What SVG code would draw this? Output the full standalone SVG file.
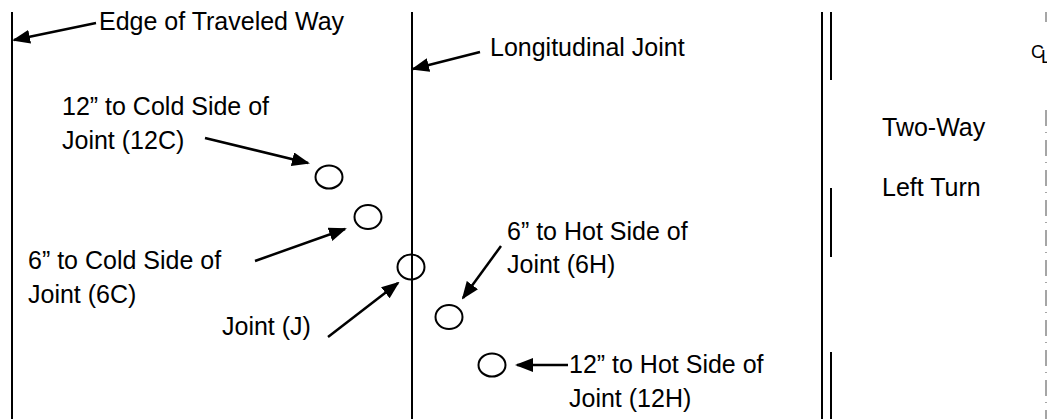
<svg xmlns="http://www.w3.org/2000/svg" width="1047" height="419" viewBox="0 0 1047 419">
  <style>
    text { font-family: "Liberation Sans", Arial, sans-serif; font-size: 25px; fill: #000; }
    .edge { stroke: #000; stroke-width: 2; fill: none; }
    .lead { stroke: #000; stroke-width: 2.5; fill: none; marker-end: url(#head); }
    .core { stroke: #000; stroke-width: 2; fill: #fff; }
    .cl { stroke: #888; stroke-width: 1.5; fill: none; }
  </style>
  <defs>
    <marker id="head" viewBox="0 0 18 14" refX="16" refY="7" markerWidth="18" markerHeight="14" markerUnits="userSpaceOnUse" orient="auto">
      <path d="M0,0 L18,7 L0,14 z" fill="#000"/>
    </marker>
  </defs>
  <rect width="1047" height="419" fill="#fff"/>

  <!-- pavement lines -->
  <g id="lines">
    <line class="edge" x1="12" y1="12" x2="12" y2="419"/>
    <line class="edge" x1="412" y1="12" x2="412" y2="419"/>
    <line class="edge" x1="822" y1="12" x2="822" y2="419"/>
    <line class="edge" x1="831" y1="12" x2="831" y2="80"/>
    <line class="edge" x1="831" y1="188" x2="831" y2="257"/>
    <line class="edge" x1="831" y1="352" x2="831" y2="419"/>
    <line class="cl" x1="1046" y1="12" x2="1046" y2="22"/>
    <line class="cl" x1="1046" y1="110" x2="1046" y2="419" stroke-dasharray="16 6 1 7"/>
  </g>

  <!-- core locations -->
  <g id="core-12C"><ellipse class="core" cx="329" cy="177" rx="13.5" ry="11.5"/></g>
  <g id="core-6C"><ellipse class="core" cx="368" cy="217" rx="13.5" ry="12"/></g>
  <g id="core-J"><ellipse class="core" cx="411" cy="267" rx="13.5" ry="12.5"/><line class="edge" x1="412" y1="254" x2="412" y2="280"/></g>
  <g id="core-6H"><ellipse class="core" cx="449" cy="317" rx="13.5" ry="12"/></g>
  <g id="core-12H"><ellipse class="core" cx="492" cy="365" rx="13.5" ry="11.5"/></g>

  <!-- labels -->
  <g id="label-edge"><text x="99" y="30">Edge of Traveled Way</text></g>
  <g id="label-joint"><text x="490" y="56">Longitudinal Joint</text></g>
  <g id="label-12C"><text x="62" y="115">12” to Cold Side of</text><text x="62" y="149">Joint (12C)</text></g>
  <g id="label-6C"><text x="28" y="269">6” to Cold Side of</text><text x="28" y="303">Joint (6C)</text></g>
  <g id="label-J"><text x="222" y="335">Joint (J)</text></g>
  <g id="label-6H"><text x="507" y="240">6” to Hot Side of</text><text x="507" y="273">Joint (6H)</text></g>
  <g id="label-12H"><text x="569" y="373">12” to Hot Side of</text><text x="569" y="407">Joint (12H)</text></g>
  <g id="label-twl"><text x="882" y="136">Two-Way</text><text x="882" y="196">Left Turn</text></g>
  <!-- centerline symbol: C overstruck with L -->
  <g id="label-cl"><text x="1031" y="58" style="font-size:18px">C<tspan dx="-3" dy="5">L</tspan></text></g>

  <!-- leader arrows -->
  <g id="connectors">
    <line class="lead" x1="96" y1="23" x2="14" y2="40"/>
    <line class="lead" x1="480" y1="52" x2="413" y2="69"/>
    <line class="lead" x1="205" y1="138" x2="308" y2="163"/>
    <line class="lead" x1="255" y1="261" x2="345" y2="229"/>
    <line class="lead" x1="328" y1="337" x2="398" y2="283"/>
    <line class="lead" x1="501" y1="246" x2="463" y2="298"/>
    <line class="lead" x1="568" y1="365" x2="517" y2="365"/>
  </g>
</svg>
